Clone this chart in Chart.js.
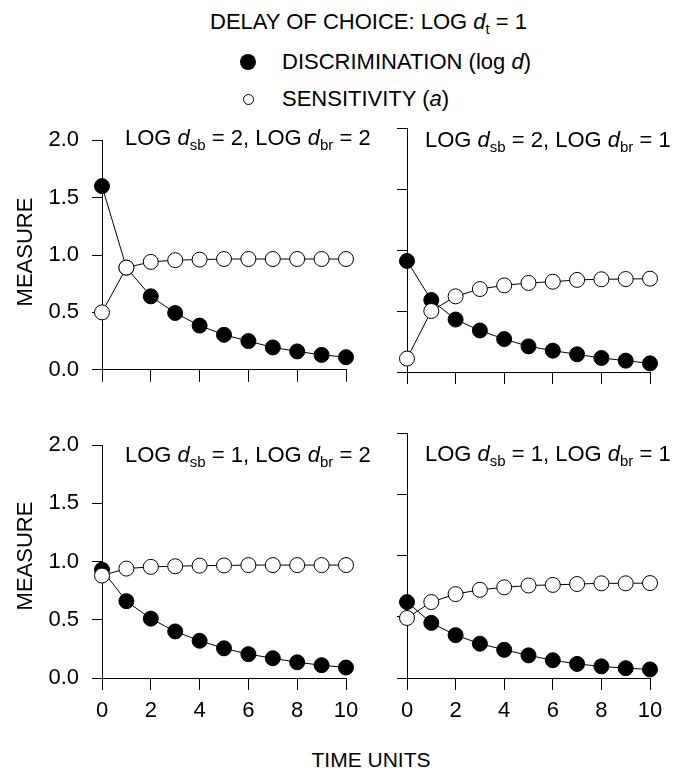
<!DOCTYPE html>
<html lang="en">
<head>
  <meta charset="UTF-8">
  <title>Delay of choice</title>
  <style>
    body {
      margin: 0;
      padding: 0;
      background: #fff;
      font-family: "Liberation Sans", Arial, sans-serif;
      color: #000;
    }
    .page {
      position: relative;
      width: 677px;
      height: 771px;
      overflow: hidden;
    }
    canvas {
      position: absolute;
    }
    .txt {
      position: absolute;
      font-size: 22px;
      line-height: 1;
      white-space: nowrap;
    }
    .txt sub {
      font-size: 15px;
      vertical-align: baseline;
      position: relative;
      top: 0.35em;
    }
    .dot {
      position: absolute;
      border-radius: 50%;
      box-sizing: border-box;
    }
    .rot {
      position: absolute;
      font-size: 22px;
      line-height: 1;
      white-space: nowrap;
      transform: translate(-50%, -50%) rotate(-90deg);
    }
  </style>
</head>
<body>
  <div class="page">
    <!-- header + legend -->
    <div class="txt" style="left:210px; top:11px;">DELAY OF CHOICE: LOG <i>d</i><sub>t</sub> = 1</div>
    <div class="dot" style="left:240px; top:54px; width:16px; height:16px; background:#000;"></div>
    <div class="txt" style="left:282px; top:51px;">DISCRIMINATION (log <i>d</i>)</div>
    <div class="dot" style="left:243px; top:94px; width:11px; height:11px; border:1px solid #000; background:#fff;"></div>
    <div class="txt" style="left:282px; top:88px;">SENSITIVITY (<i>a</i>)</div>

    <canvas id="tl"></canvas>
    <canvas id="tr"></canvas>
    <canvas id="bl"></canvas>
    <canvas id="br"></canvas>

    <!-- panel titles -->
    <div class="txt" style="left:125px; top:127px;">LOG <i>d</i><sub>sb</sub> = 2, LOG <i>d</i><sub>br</sub> = 2</div>
    <div class="txt" style="left:425px; top:129px;">LOG <i>d</i><sub>sb</sub> = 2, LOG <i>d</i><sub>br</sub> = 1</div>
    <div class="txt" style="left:125px; top:444px;">LOG <i>d</i><sub>sb</sub> = 1, LOG <i>d</i><sub>br</sub> = 2</div>
    <div class="txt" style="left:425px; top:443px;">LOG <i>d</i><sub>sb</sub> = 1, LOG <i>d</i><sub>br</sub> = 1</div>

    <div class="rot" style="left:25px; top:252px;">MEASURE</div>
    <div class="rot" style="left:25px; top:556px;">MEASURE</div>
    <div class="txt" style="left:371px; top:749px; font-size:21px; transform:translateX(-50%);">TIME UNITS</div>
  </div>

  <script src="https://cdn.jsdelivr.net/npm/chart.js"></script>
  <script>
    // x values and tick positions
    const timeUnits = [0, 1, 2, 3, 4, 5, 6, 7, 8, 9, 10];
    const xTicks = [0, 2, 4, 6, 8, 10];
    const yTicks = [0, 0.5, 1.0, 1.5, 2.0];

    // LOG dsb = 2, LOG dbr = 2
    const discSb2Br2 = [1.60, 0.89, 0.64, 0.495, 0.385, 0.305, 0.25, 0.195, 0.16, 0.13, 0.11];
    const sensSb2Br2 = [0.50, 0.89, 0.94, 0.955, 0.96, 0.965, 0.965, 0.965, 0.965, 0.965, 0.965];
    // LOG dsb = 2, LOG dbr = 1
    const discSb2Br1 = [0.91, 0.59, 0.43, 0.34, 0.27, 0.21, 0.175, 0.145, 0.115, 0.093, 0.071];
    const sensSb2Br1 = [0.11, 0.50, 0.62, 0.68, 0.71, 0.73, 0.74, 0.755, 0.76, 0.762, 0.765];
    // LOG dsb = 1, LOG dbr = 2
    const discSb1Br2 = [0.93, 0.66, 0.51, 0.40, 0.32, 0.255, 0.205, 0.17, 0.135, 0.11, 0.09];
    const sensSb1Br2 = [0.88, 0.94, 0.955, 0.96, 0.965, 0.967, 0.97, 0.97, 0.97, 0.97, 0.97];
    // LOG dsb = 1, LOG dbr = 1
    const discSb1Br1 = [0.62, 0.45, 0.35, 0.28, 0.23, 0.185, 0.145, 0.115, 0.095, 0.08, 0.07];
    const sensSb1Br1 = [0.49, 0.62, 0.685, 0.72, 0.74, 0.755, 0.76, 0.767, 0.773, 0.773, 0.775];

    const FONT = { family: '"Liberation Sans", Arial, sans-serif', size: 22 };

    function toXY(vals) {
      return vals.map((v, i) => ({ x: timeUnits[i], y: v }));
    }

    // plot = chart area in page pixels; yw / xh = room for the axes
    function makePanel(id, plot, yw, xh, showY, showX, disc, sens) {
      const canvas = document.getElementById(id);
      const padTop = 14, padRight = 24;
      const left = plot.l - yw;
      const top = plot.t - padTop;
      const w = yw + (plot.r - plot.l) + padRight;
      const h = padTop + (plot.b - plot.t) + xh;
      canvas.width = w;
      canvas.height = h;
      canvas.style.left = left + 'px';
      canvas.style.top = top + 'px';
      canvas.style.width = w + 'px';
      canvas.style.height = h + 'px';

      new Chart(canvas.getContext('2d'), {
        type: 'line',
        data: {
          datasets: [
            {
              label: 'SENSITIVITY (a)',
              data: toXY(sens),
              borderColor: '#000',
              borderWidth: 1,
              pointRadius: 7.5,
              pointBorderWidth: 1,
              pointBackgroundColor: '#fff',
              pointBorderColor: '#000',
              clip: false
            },
            {
              label: 'DISCRIMINATION (log d)',
              data: toXY(disc),
              borderColor: '#000',
              borderWidth: 1,
              pointRadius: 7.5,
              pointBorderWidth: 1,
              pointBackgroundColor: '#000',
              pointBorderColor: '#000',
              clip: false
            }
          ]
        },
        options: {
          responsive: false,
          animation: false,
          events: [],
          layout: { autoPadding: false, padding: { top: padTop, right: padRight, left: 0, bottom: 0 } },
          plugins: { legend: { display: false }, tooltip: { enabled: false } },
          scales: {
            x: {
              type: 'linear',
              min: 0,
              max: 10,
              afterBuildTicks: s => { s.ticks = xTicks.map(v => ({ value: v })); },
              afterFit: s => { s.height = xh; },
              grid: { drawOnChartArea: false, drawTicks: true, tickLength: 12, color: '#000' },
              border: { display: true, color: '#000', width: 1 },
              ticks: { display: showX, color: '#000', font: FONT, padding: 8, maxRotation: 0,
                       callback: v => String(v) }
            },
            y: {
              min: 0,
              max: 2,
              afterBuildTicks: s => { s.ticks = yTicks.map(v => ({ value: v })); },
              afterFit: s => { s.width = yw; },
              grid: { drawOnChartArea: false, drawTicks: true, tickLength: 10, color: '#000' },
              border: { display: true, color: '#000', width: 1 },
              ticks: { display: showY, color: '#000', font: FONT, padding: 13,
                       callback: v => Number(v).toFixed(1) }
            }
          }
        }
      });
    }

    makePanel('tl', { l: 102, t: 128, r: 346, b: 372 }, 102, 24, true, false, discSb2Br2, sensSb2Br2);
    makePanel('tr', { l: 407, t: 128, r: 650, b: 372 }, 40, 24, false, false, discSb2Br1, sensSb2Br1);
    makePanel('bl', { l: 102, t: 433, r: 346, b: 678 }, 102, 60, true, true, discSb1Br2, sensSb1Br2);
    makePanel('br', { l: 407, t: 433, r: 650, b: 678 }, 40, 60, false, true, discSb1Br1, sensSb1Br1);
  </script>
</body>
</html>
